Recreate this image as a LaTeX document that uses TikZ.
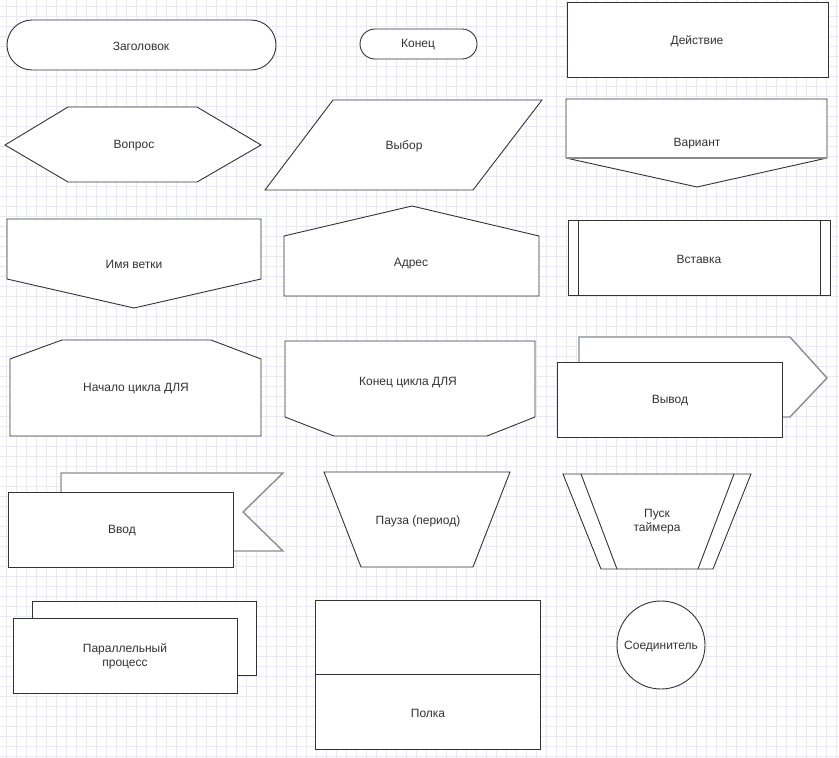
\documentclass[tikz,border=0pt]{standalone}
\usepackage{fontspec}
\setmainfont{Liberation Sans}
\begin{document}
\begin{tikzpicture}[x=1pt, y=-1pt,
    shapeLine/.style={draw=borderColour, line width=0.9pt, fill=white},
    backLine/.style={draw=backColour, line width=1.4pt, fill=white},
    shapeText/.style={text=textColour, font=\fontsize{12}{14}\selectfont, align=center, yshift=-1pt}]
    \definecolor{borderColour}{HTML}{333333}
    \definecolor{backColour}{HTML}{8C8C8C}
    \definecolor{textColour}{HTML}{333333}
    \definecolor{gridColour}{HTML}{E8E8FA}

    \def\pageWidth{839}
    \def\pageHeight{758}

    % Draw background and grid
    \fill[white] (0,0) rectangle (\pageWidth,\pageHeight);
    \useasboundingbox (0,0) rectangle (\pageWidth,\pageHeight);
    \foreach \gx in {6,16,...,836}
        \draw[gridColour, line width=0.7pt] (\gx,0) -- (\gx,\pageHeight);
    \foreach \gy in {6,16,...,756}
        \draw[gridColour, line width=0.7pt] (0,\gy) -- (\pageWidth,\gy);

    % Draw terminators
    \draw[shapeLine, rounded corners=25pt] (7,20) rectangle (276,70);
    \node[shapeText] (title) at (141,45) {Заголовок};
    \draw[shapeLine, rounded corners=15pt] (360,29) rectangle (477,59);
    \node[shapeText] (finish) at (418,44) {Конец};

    % Draw action
    \draw[shapeLine] (567,2) rectangle (828,77);
    \node[shapeText] (action) at (697,40) {Действие};

    % Draw question
    \draw[shapeLine] (5,145) -- (68,107) -- (197,107) -- (261,145) -- (197,182) -- (68,182) -- cycle;
    \node[shapeText] (question) at (134,145) {Вопрос};

    % Draw choice
    \draw[shapeLine] (265,190) -- (333,100) -- (542,100) -- (473,190) -- cycle;
    \node[shapeText] (choice) at (404,145) {Выбор};

    % Draw case
    \draw[shapeLine] (566,99) -- (827,99) -- (827,158) -- (697,187) -- (566,158) -- cycle;
    \draw[backColour, line width=1.4pt] (566,158) -- (827,158);
    \node[shapeText] (case) at (697,143) {Вариант};

    % Draw branch
    \draw[shapeLine] (7,219) -- (261,219) -- (261,279) -- (134,308) -- (7,279) -- cycle;
    \node[shapeText] (branch) at (134,263) {Имя ветки};

    % Draw address
    \draw[shapeLine] (284,236) -- (412,206) -- (539,236) -- (539,296) -- (284,296) -- cycle;
    \node[shapeText] (address) at (411,263) {Адрес};

    % Draw insertion
    \draw[shapeLine] (568,220) rectangle (830,295);
    \draw[shapeLine] (578,220) -- (578,295) (820,220) -- (820,295);
    \node[shapeText] (insertion) at (699,258) {Вставка};

    % Draw loop start and loop end
    \draw[shapeLine] (10,359) -- (62,340) -- (211,340) -- (261,359) -- (261,436) -- (10,436) -- cycle;
    \node[shapeText] (loopStart) at (136,388) {Начало цикла ДЛЯ};
    \draw[shapeLine] (285,341) -- (535,341) -- (535,417) -- (487,436) -- (334,436) -- (285,417) -- cycle;
    \node[shapeText] (loopEnd) at (408,382) {Конец цикла ДЛЯ};

    % Draw output
    \draw[backLine] (579,337) -- (790,337) -- (827,378) -- (790,417) -- (579,417) -- cycle;
    \draw[shapeLine] (557,362) rectangle (782,437);
    \node[shapeText] (output) at (670,400) {Вывод};

    % Draw input
    \draw[backLine] (61,473) -- (283,473) -- (243,512) -- (283,551) -- (61,551) -- cycle;
    \draw[shapeLine] (8,492) rectangle (233,567);
    \node[shapeText] (input) at (122,530) {Ввод};

    % Draw pause
    \draw[shapeLine] (324,472) -- (510,472) -- (473,567) -- (361,567) -- cycle;
    \node[shapeText] (pause) at (418,520) {Пауза (период)};

    % Draw timer start
    \draw[shapeLine] (563,474) -- (751,474) -- (713,569) -- (601,569) -- cycle;
    \draw[shapeLine] (581,474) -- (617,569) (734,474) -- (698,569);
    \node[shapeText] (timer) at (657,521) {Пуск\\таймера};

    % Draw parallel process
    \draw[shapeLine] (32,601) rectangle (256,675);
    \draw[shapeLine] (13,618) rectangle (237,693);
    \node[shapeText] (parallel) at (125,655) {Параллельный\\процесс};

    % Draw shelf
    \draw[shapeLine] (315,600) rectangle (540,749);
    \draw[shapeLine] (315,674) -- (540,674);
    \node[shapeText] (shelf) at (428,712) {Полка};

    % Draw connector
    \draw[shapeLine] (661,645) circle (44);
    \node[shapeText] (connector) at (661,645) {Соединитель};

\end{tikzpicture}
\end{document}
